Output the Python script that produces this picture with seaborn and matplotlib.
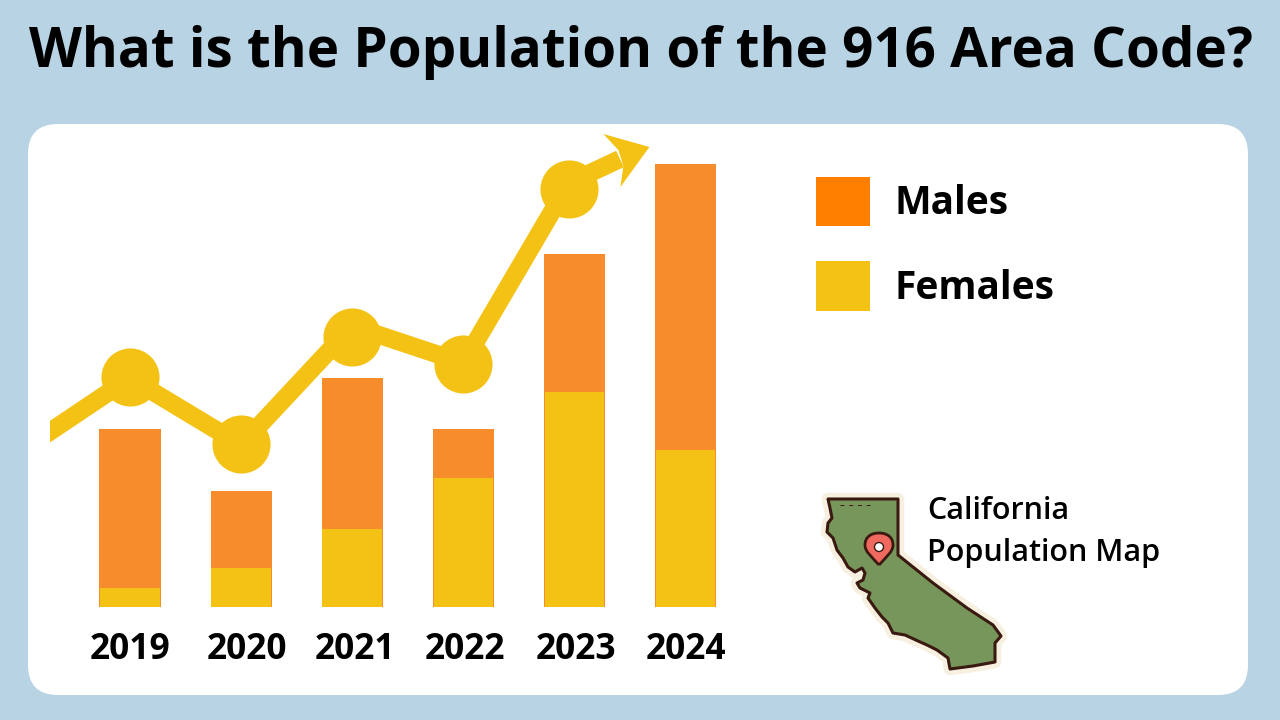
# Population of the 916 area code chart
import matplotlib
matplotlib.use("Agg")
import matplotlib.pyplot as plt
import seaborn as sns
import pandas as pd
from matplotlib.patches import FancyBboxPatch, Patch, Polygon, Circle, PathPatch
from matplotlib.path import Path
from matplotlib.transforms import Affine2D, ScaledTranslation

# Chart values
years = ["2019", "2020", "2021", "2022", "2023", "2024"]
totals = [178.5, 116.5, 229.5, 178.5, 353.5, 443.5]
females = [19, 39, 78.5, 129, 215, 157]

# Trend line running over the bars, last point is where the arrow head sits
trend_x = [-0.9, 0, 1, 2, 3, 3.95, 4.41]
trend_y = [162, 229, 162, 281, 244, 424, 448]
marker_x = [0, 1, 2, 3, 3.95]
marker_y = [230, 163, 270, 243, 418]
arrow_tip = (4.675, 460)

# Outline of the state in the picture's pixels
california = [
    (828, 499), (898, 499), (898, 555), (933, 583), (967, 608), (993, 625),
    (1001, 636), (995, 643), (995, 662), (973, 666), (950, 669), (948, 658),
    (937, 650), (927, 645), (918, 641), (905, 635), (893, 633), (888, 623),
    (882, 617), (875, 608), (868, 598), (870, 593), (860, 588), (857, 583),
    (863, 580), (865, 573), (862, 568), (855, 572), (848, 567), (843, 558),
    (837, 550), (833, 538), (827, 532), (828, 523), (832, 518), (830, 508),
]

bg_color = "#B8D3E3"
orange = "#F78C2D"
yellow = "#F4C214"
legend_orange = "#FE7F00"
dark = "#3A1A10"
font = "Open Sans"

sns.set_theme(style="white")
plt.rcParams["font.family"] = [font, "DejaVu Sans"]
plt.rcParams["patch.linewidth"] = 0

fig = plt.figure(figsize=(12.8, 7.2), dpi=100, facecolor=bg_color)

# Backdrop axes in pixels for the panel, title and map
back = fig.add_axes([0, 0, 1, 1], zorder=0)
back.set_xlim(0, 1280)
back.set_ylim(720, 0)
back.axis("off")
back.add_patch(FancyBboxPatch(
    (58, 154), 1160, 511,
    boxstyle="round,pad=30,rounding_size=30",
    facecolor="white", edgecolor="none"))
back.text(641, 52, "What is the Population of the 916 Area Code?",
          ha="center", va="center", fontsize=39.4, fontweight="bold", color="black")

# California sticker
back.add_patch(Polygon(california, closed=True, facecolor="#F7EFDF",
                       edgecolor="#F7EFDF", linewidth=9, joinstyle="round"))
back.add_patch(Polygon(california, closed=True, facecolor="#76965C",
                       edgecolor=dark, linewidth=2.2, joinstyle="round"))
back.plot([840, 870], [505, 505], color=dark, lw=0.7, ls=(0, (4, 5)))
pin = Path(
    [(879, 565), (872, 557), (865, 552), (865, 545),
     (865, 537), (871, 533), (879, 533),
     (887, 533), (893, 537), (893, 545),
     (893, 552), (886, 557), (879, 565)],
    [Path.MOVETO] + [Path.CURVE4] * 12)
back.add_patch(PathPatch(pin, facecolor="#F0695F", edgecolor=dark, linewidth=2))
back.add_patch(Circle((879, 547), 4.5, facecolor="white", edgecolor=dark, linewidth=1))
back.text(927, 511, "California", ha="left", va="center",
          fontsize=22, fontweight="semibold", color="black")
back.text(927, 553, "Population Map", ha="left", va="center",
          fontsize=22, fontweight="semibold", color="black")

# Chart axes: bars sit on the pixel row 607
ax = fig.add_axes([50 / 1280, 1 - 607 / 720, 670 / 1280, 477 / 720], zorder=1)
ax.patch.set_alpha(0)

data = pd.DataFrame({"Year": years, "Total": totals, "Females": females})
sns.barplot(data=data, x="Year", y="Total", color=orange, saturation=1, width=0.55, linewidth=0, ax=ax)
sns.barplot(data=data, x="Year", y="Females", color=yellow, saturation=1, width=0.535, linewidth=0, ax=ax)

sns.lineplot(x=trend_x, y=trend_y, color=yellow, linewidth=13, ax=ax, sort=False,
             errorbar=None, solid_joinstyle="miter", solid_capstyle="butt")
sns.scatterplot(x=marker_x, y=marker_y, color=yellow, s=1750, linewidth=0, ax=ax, zorder=5)

ax.set_xlim((50 - 130) / 111.1, (720 - 130) / 111.1)
ax.set_ylim(0, 477)
ax.set_xlabel("")
ax.set_ylabel("")
ax.set_yticks([])
sns.despine(ax=ax, left=True, bottom=True)

# Year labels are not quite centred under the bars in the original
ax.tick_params(axis="x", length=0, pad=18)
label_nudge = [0, 6, 3, 2, 2, 0]
for label, nudge in zip(ax.get_xticklabels(), label_nudge):
    label.set_fontsize(25.5)
    label.set_fontweight("bold")
    label.set_color("black")
    label.set_transform(label.get_transform() + ScaledTranslation(nudge / 100, 0, fig.dpi_scale_trans))

# Arrow head, shape given relative to its tip in pixels
tip = ax.transData.transform(arrow_tip)
head = [(0, 0), (-46, 13), (-31, -3), (-26, -19), (-29, -40)]
ax.add_patch(Polygon(head, closed=True, facecolor=yellow, edgecolor="none",
                     transform=Affine2D().translate(*tip), clip_on=False, zorder=6))

# Legend
handles = [Patch(facecolor=legend_orange, label="Males"), Patch(facecolor=yellow, label="Females")]
leg = fig.legend(handles=handles, loc="upper left", bbox_to_anchor=(816 / 1280, 1 - 177 / 720),
                 frameon=False, borderpad=0, borderaxespad=0,
                 handlelength=1.39, handleheight=1.58, handletextpad=0.64, labelspacing=0.9,
                 prop={"family": font, "weight": "bold", "size": 28})
for text in leg.get_texts():
    text.set_color("black")

fig.savefig("out.png", dpi=100, facecolor=bg_color)
